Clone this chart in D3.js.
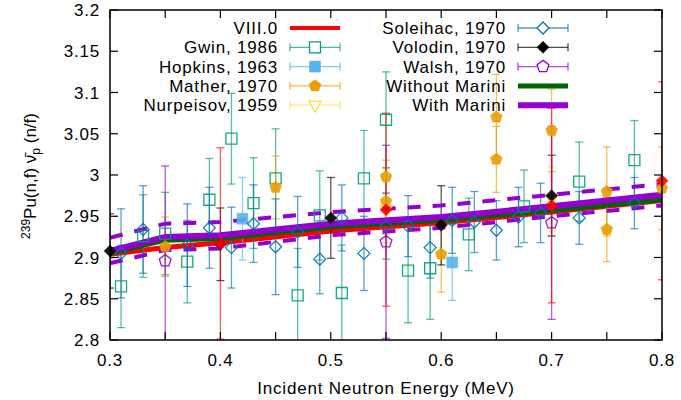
<!DOCTYPE html>
<html lang="en">
<head>
    <meta charset="UTF-8">
    <title>239Pu(n,f) prompt nubar</title>
    <script src="https://d3js.org/d3.v7.min.js"></script>
    <style>
        body { margin: 0; background: #fff; }
        text { font-family: "Liberation Sans", Arial, Helvetica, sans-serif; font-size: 17px; letter-spacing: 0.8px; fill: #000; }
    </style>
</head>
<body>
<script>
    // Energy grid for evaluated curves (MeV)
    const curveE = [0.3, 0.35, 0.4, 0.5, 0.6, 0.7, 0.8];
    const viii0 = [2.904, 2.912, 2.918, 2.932, 2.942, 2.955, 2.969];
    const withoutMarini = [2.905, 2.921, 2.923, 2.937, 2.945, 2.957, 2.970];
    const withMarini = [2.908, 2.925, 2.927, 2.941, 2.949, 2.962, 2.976];
    const withUpper = [2.924, 2.941, 2.943, 2.955, 2.963, 2.976, 2.989];
    const withLower = [2.893, 2.909, 2.911, 2.927, 2.936, 2.950, 2.963];

    // Experimental data: [energy, nubar, uncertainty]
    const gwin = [[0.31, 2.865, 0.05], [0.33, 2.926, 0.05], [0.35, 2.929, 0.05], [0.37, 2.895, 0.05],
        [0.39, 2.970, 0.05], [0.41, 3.044, 0.055], [0.43, 2.966, 0.055], [0.45, 2.996, 0.06],
        [0.47, 2.854, 0.057], [0.49, 2.951, 0.054], [0.51, 2.857, 0.058], [0.53, 2.996, 0.058],
        [0.55, 3.067, 0.058], [0.57, 2.884, 0.063], [0.59, 2.887, 0.062], [0.625, 2.928, 0.044],
        [0.675, 2.962, 0.044], [0.725, 2.992, 0.048], [0.775, 3.018, 0.048]];
    const hopkins = [[0.42, 2.947, 0.05], [0.61, 2.894, 0.046]];
    const mather = [[0.35, 2.913, 0.036], [0.45, 2.985, 0.038], [0.55, 2.998, 0.02], [0.55, 2.968, 0.04],
        [0.6, 2.904, 0.046], [0.65, 3.070, 0.052], [0.65, 3.019, 0.04], [0.7, 3.054, 0.05],
        [0.75, 2.980, 0.054], [0.75, 2.934, 0.039], [0.8, 2.984, 0.05]];
    const nurpeisov = [[0.55, 2.958, 0.04], [0.7, 2.971, 0.039]];
    const soleihac = [[0.31, 2.905, 0.054], [0.33, 2.934, 0.053], [0.37, 2.915, 0.05], [0.39, 2.936, 0.049],
        [0.41, 2.912, 0.049], [0.43, 2.941, 0.047], [0.45, 2.913, 0.058], [0.47, 2.931, 0.043],
        [0.49, 2.898, 0.042], [0.51, 2.948, 0.04], [0.53, 2.905, 0.045], [0.55, 2.938, 0.04],
        [0.57, 2.938, 0.037], [0.59, 2.912, 0.037], [0.61, 2.945, 0.04], [0.63, 2.943, 0.037],
        [0.65, 2.933, 0.036], [0.67, 2.949, 0.036], [0.69, 2.954, 0.036], [0.725, 2.948, 0.032],
        [0.775, 2.966, 0.031]];
    const volodin = [[0.3, 2.908, 0.045], [0.4, 2.916, 0.044], [0.5, 2.948, 0.049], [0.6, 2.939, 0.048],
        [0.7, 2.975, 0.049]];
    const walsh = [[0.35, 2.896, 0.115], [0.55, 2.919, 0.117], [0.7, 2.942, 0.117]];
    const evalPoints = [[0.4, 2.917, 0.116], [0.55, 2.958, 0.117], [0.7, 2.963, 0.118], [0.8, 2.993, 0.12]];

    const xTicks = d3.range(0.3, 0.8001, 0.05);
    const xLabels = [0.3, 0.4, 0.5, 0.6, 0.7, 0.8];
    const yTicks = d3.range(2.8, 3.2001, 0.05);

    const width = 681, height = 400;
    const plotL = 110, plotR = 662, plotT = 10, plotB = 340;

    const svg = d3.select("body").append("svg")
        .attr("width", width).attr("height", height);

    const x = d3.scaleLinear().domain([0.3, 0.8]).range([plotL, plotR]);
    const y = d3.scaleLinear().domain([2.8, 3.2]).range([plotB, plotT]);

    svg.append("defs").append("clipPath").attr("id", "plot")
        .append("rect").attr("x", plotL).attr("y", plotT)
        .attr("width", plotR - plotL).attr("height", plotB - plotT);

    // marker paths
    function pentagon(r) {
        const p = d3.range(5).map(k => {
            const a = -Math.PI / 2 + k * 2 * Math.PI / 5;
            return [r * Math.cos(a), r * Math.sin(a)];
        });
        return "M" + p.join("L") + "Z";
    }
    const shapes = {
        square: "M-5.5,-5.5h11v11h-11Z",
        diamond: "M0,-6L6,0L0,6L-6,0Z",
        pentagon: pentagon(6.2),
        triDown: "M-6,-4L6,-4L0,7Z"
    };

    const series = [
        {name: "Gwin, 1986", data: gwin, color: "#009e73", shape: "square", fill: false},
        {name: "Hopkins, 1963", data: hopkins, color: "#56b4e9", shape: "square", fill: true},
        {name: "Mather, 1970", data: mather, color: "#e69f00", shape: "pentagon", fill: true},
        {name: "Nurpeisov, 1959", data: nurpeisov, color: "#f0e442", shape: "triDown", fill: false},
        {name: "Soleihac, 1970", data: soleihac, color: "#0072b2", shape: "diamond", fill: false},
        {name: "Volodin, 1970", data: volodin, color: "#000000", shape: "diamond", fill: true},
        {name: "Walsh, 1970", data: walsh, color: "#9400d3", shape: "pentagon", fill: false},
        {name: null, data: evalPoints, color: "#ff0000", shape: "diamond", fill: true}
    ];

    const line = d3.line().x(d => x(d[0])).y(d => y(d[1]));
    const zip = vals => curveE.map((e, i) => [e, vals[i]]);

    const plot = svg.append("g");
    const clipped = plot.append("g").attr("clip-path", "url(#plot)");

    // VIII.0 curve underneath
    clipped.append("path").datum(zip(viii0)).attr("d", line)
        .attr("fill", "none").attr("stroke", "#ff0000").attr("stroke-width", 5);

    series.forEach(s => {
        const g = clipped.append("g").attr("stroke", s.color).attr("stroke-opacity", 0.65)
            .attr("stroke-width", 1.3);
        s.data.forEach(d => {
            const cx = x(d[0]);
            g.append("line").attr("x1", cx).attr("x2", cx)
                .attr("y1", y(d[1] - d[2])).attr("y2", y(d[1] + d[2]));
            [d[1] - d[2], d[1] + d[2]].forEach(v => {
                g.append("line").attr("x1", cx - 4).attr("x2", cx + 4)
                    .attr("y1", y(v)).attr("y2", y(v));
            });
        });
        plot.append("g").selectAll("path").data(s.data).join("path")
            .attr("d", shapes[s.shape])
            .attr("transform", d => `translate(${x(d[0])},${y(d[1])})`)
            .attr("fill", s.fill ? s.color : "none")
            .attr("stroke", s.color)
            .attr("stroke-width", s.fill ? 0.5 : 1.3)
            .attr("opacity", 0.9);
    });

    clipped.append("path").datum(zip(withoutMarini)).attr("d", line)
        .attr("fill", "none").attr("stroke", "#006400").attr("stroke-width", 5);
    clipped.append("path").datum(zip(withMarini)).attr("d", line)
        .attr("fill", "none").attr("stroke", "#9400d3").attr("stroke-width", 6);
    [withUpper, withLower].forEach(b => {
        clipped.append("path").datum(zip(b)).attr("d", line)
            .attr("fill", "none").attr("stroke", "#9400d3").attr("stroke-width", 4)
            .attr("stroke-dasharray", "13,12");
    });

    // frame and ticks
    const axes = svg.append("g").attr("stroke", "#000").attr("stroke-width", 1.2);
    xTicks.forEach(t => {
        axes.append("line").attr("x1", x(t)).attr("x2", x(t)).attr("y1", plotB).attr("y2", plotB - 8);
        axes.append("line").attr("x1", x(t)).attr("x2", x(t)).attr("y1", plotT).attr("y2", plotT + 8);
    });
    yTicks.forEach(t => {
        axes.append("line").attr("x1", plotL).attr("x2", plotL + 8).attr("y1", y(t)).attr("y2", y(t));
        axes.append("line").attr("x1", plotR).attr("x2", plotR - 8).attr("y1", y(t)).attr("y2", y(t));
    });
    axes.append("rect").attr("x", plotL).attr("y", plotT)
        .attr("width", plotR - plotL).attr("height", plotB - plotT)
        .attr("fill", "none").attr("stroke-width", 1.5);

    svg.append("g").selectAll("text").data(xLabels).join("text")
        .attr("x", d => x(d)).attr("y", 366).attr("text-anchor", "middle")
        .text(d => d3.format(".1f")(d));
    svg.append("g").selectAll("text").data(yTicks).join("text")
        .attr("x", 100).attr("y", d => y(d) + 6).attr("text-anchor", "end")
        .text(d => d3.format("~g")(+d.toFixed(2)));

    svg.append("text").attr("x", 386).attr("y", 394).attr("text-anchor", "middle")
        .text("Incident Neutron Energy (MeV)");

    const yt = svg.append("text").attr("transform", "translate(36,176) rotate(-90)")
        .attr("text-anchor", "middle").style("letter-spacing", "0px");
    yt.append("tspan").attr("font-size", "12px").attr("dy", -6).text("239");
    yt.append("tspan").attr("dy", 6).text("Pu(n,f) \u03bd\u0304");
    yt.append("tspan").attr("font-size", "12px").attr("dy", 4).text("p");
    yt.append("tspan").attr("dy", -4).text(" (n/f)");

    // legend
    const rowY = i => 28 + i * 19.3;
    const legendItems = [
        {col: 0, row: 0, name: "VIII.0", line: {color: "#ff0000", w: 4}},
        ...series.slice(0, 4).map((s, i) => ({col: 0, row: i + 1, s})),
        ...series.slice(4, 7).map((s, i) => ({col: 1, row: i, s})),
        {col: 1, row: 3, name: "Without Marini", line: {color: "#006400", w: 5}},
        {col: 1, row: 4, name: "With Marini", line: {color: "#9400d3", w: 6}}
    ];
    const colText = [278, 506], colSample = [290, 518];
    const leg = svg.append("g");
    legendItems.forEach(it => {
        const ly = rowY(it.row), x0 = colSample[it.col], x1 = x0 + 50;
        leg.append("text").attr("x", colText[it.col]).attr("y", ly + 6)
            .attr("text-anchor", "end").text(it.name || it.s.name);
        if (it.line) {
            leg.append("line").attr("x1", x0).attr("x2", x1).attr("y1", ly).attr("y2", ly)
                .attr("stroke", it.line.color).attr("stroke-width", it.line.w);
        } else {
            const s = it.s;
            const g = leg.append("g").attr("stroke", s.color).attr("stroke-opacity", 0.7).attr("stroke-width", 1.3);
            g.append("line").attr("x1", x0).attr("x2", x1).attr("y1", ly).attr("y2", ly);
            [x0, x1].forEach(xx => g.append("line").attr("x1", xx).attr("x2", xx)
                .attr("y1", ly - 4).attr("y2", ly + 4));
            leg.append("path").attr("d", shapes[s.shape])
                .attr("transform", `translate(${(x0 + x1) / 2},${ly})`)
                .attr("fill", s.fill ? s.color : "#fff")
                .attr("stroke", s.color).attr("stroke-width", s.fill ? 0.5 : 1.3);
        }
    });
</script>
</body>
</html>
